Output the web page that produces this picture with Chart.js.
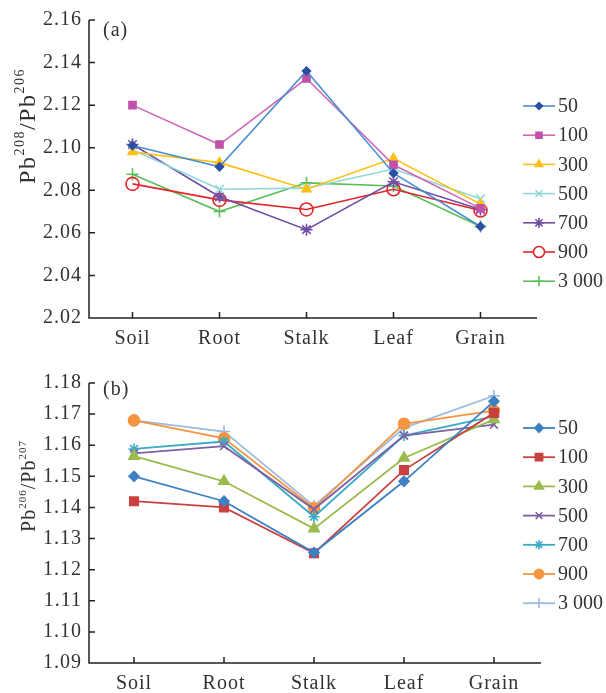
<!DOCTYPE html>
<html lang="en">
<head>
  <meta charset="UTF-8">
  <title>Pb isotope ratios</title>
  <style>
    body { margin: 0; background: #fff; }
    .box { position: relative; width: 606px; }
  </style>
</head>
<body>

<div class="box" style="height:345px"><canvas id="chartA"></canvas></div>
<div class="box" style="height:348px"><canvas id="chartB"></canvas></div>

<script src="https://cdn.jsdelivr.net/npm/chart.js"></script>
<script>
const parts = ['Soil', 'Root', 'Stalk', 'Leaf', 'Grain'];
const series = ['50', '100', '300', '500', '700', '900', '3 000'];

// (a) Pb208/Pb206
const a50   = [2.101, 2.091, 2.136, 2.088, 2.063];
const a100  = [2.120, 2.1015, 2.1325, 2.092, 2.0715];
const a300  = [2.098, 2.093, 2.0805, 2.095, 2.0735];
const a500  = [2.099, 2.0805, 2.081, 2.090, 2.076];
const a700  = [2.1015, 2.077, 2.0615, 2.084, 2.071];
const a900  = [2.083, 2.0755, 2.071, 2.0805, 2.0705];
const a3000 = [2.0875, 2.070, 2.0835, 2.082, 2.063];
const yTicksA = [2.02, 2.04, 2.06, 2.08, 2.10, 2.12, 2.14, 2.16];

// (b) Pb206/Pb207
const b50   = [1.150, 1.142, 1.1255, 1.1484, 1.1741];
const b100  = [1.142, 1.140, 1.1253, 1.152, 1.1704];
const b300  = [1.1565, 1.1484, 1.1332, 1.1559, 1.1683];
const b500  = [1.1574, 1.1597, 1.1394, 1.1631, 1.1666];
const b700  = [1.1588, 1.1612, 1.137, 1.1631, 1.1693];
const b900  = [1.168, 1.1622, 1.1398, 1.1669, 1.1711];
const b3000 = [1.168, 1.1644, 1.1405, 1.1656, 1.1759];
const yTicksB = [1.09, 1.10, 1.11, 1.12, 1.13, 1.14, 1.15, 1.16, 1.17, 1.18];

const SERIF = '"Liberation Serif", "Times New Roman", serif';
const INK = '#333';

// line colour, marker colour, marker style, radius, filled
const styleA = [
  ['#4a8fd0', '#2d4fa3', 'rectRot', 4, true],
  ['#cf68b6', '#c052aa', 'rect', 5, true],
  ['#fdc012', '#fdc012', 'triangle', 5, true],
  ['#8fd9db', '#8fd9db', 'crossRot', 6, false],
  ['#6f4ea6', '#6f4ea6', 'star', 6, false],
  ['#e3262b', '#e3262b', 'circle', 6.5, false],
  ['#5bbf5b', '#5bbf5b', 'cross', 6, false]
];
const styleB = [
  ['#3d80c3', '#3d80c3', 'rectRot', 5, true],
  ['#c9413f', '#c9413f', 'rect', 6, true],
  ['#9bbb4c', '#9bbb4c', 'triangle', 6, true],
  ['#7d60a6', '#7d60a6', 'crossRot', 5.5, false],
  ['#3aabc6', '#3aabc6', 'star', 5.5, false],
  ['#f59540', '#f59540', 'circle', 5.5, true],
  ['#9dbadf', '#9dbadf', 'cross', 6, false]
];

function buildSets(values, styles, lw) {
  return values.map((v, i) => {
    const s = styles[i];
    return {
      label: series[i],
      data: v,
      borderColor: s[0],
      borderWidth: lw,
      pointStyle: s[2],
      pointRadius: s[3],
      pointBorderColor: s[1],
      pointBackgroundColor: s[4] ? s[1] : 'rgba(0,0,0,0)',
      pointBorderWidth: 1.6,
      tension: 0
    };
  });
}

const decor = {
  id: 'decor',
  beforeDraw(chart) {
    chart.ctx.letterSpacing = '1px';
  },
  afterDraw(chart, args, o) {
    const ctx = chart.ctx, xs = chart.scales.x, ys = chart.scales.y, area = chart.chartArea;
    ctx.save();
    ctx.letterSpacing = '0px';
    ctx.strokeStyle = '#222';
    ctx.lineWidth = 1.5;
    ctx.beginPath();
    ctx.moveTo(area.left, area.top);
    ctx.lineTo(area.left, area.bottom);
    ctx.lineTo(o.axisEnd, area.bottom);
    ys.ticks.forEach(t => {
      const y = ys.getPixelForValue(t.value);
      ctx.moveTo(area.left, y);
      ctx.lineTo(area.left + 6, y);
    });
    xs.ticks.forEach((t, i) => {
      const x = xs.getPixelForTick(i);
      ctx.moveTo(x, area.bottom);
      ctx.lineTo(x, area.bottom - 6);
    });
    ctx.stroke();

    // panel letter
    ctx.fillStyle = INK;
    ctx.font = '20px ' + SERIF;
    ctx.textAlign = 'left';
    ctx.textBaseline = 'middle';
    ctx.letterSpacing = '1px';
    ctx.fillText(o.panel, 103, o.panelY);

    // rotated y title with superscripts
    ctx.save();
    ctx.translate(o.titleX, o.titleY);
    ctx.rotate(-Math.PI / 2);
    ctx.textBaseline = 'alphabetic';
    ctx.letterSpacing = o.titleSpacing + 'px';
    let total = 0;
    const widths = o.title.map(p => {
      ctx.font = (p[1] ? o.supSize : o.titleSize) + 'px ' + SERIF;
      const w = ctx.measureText(p[0]).width;
      total += w;
      return w;
    });
    let u = -total / 2;
    o.title.forEach((p, i) => {
      ctx.font = (p[1] ? o.supSize : o.titleSize) + 'px ' + SERIF;
      ctx.fillText(p[0], u, p[1] ? -o.titleSize * 0.45 : 0);
      u += widths[i];
    });
    ctx.restore();

    // legend
    const draw = Chart.helpers && Chart.helpers.drawPoint;
    chart.data.datasets.forEach((ds, i) => {
      const y = o.legendTop + i * o.legendGap;
      ctx.strokeStyle = ds.borderColor;
      ctx.lineWidth = ds.borderWidth;
      ctx.beginPath();
      ctx.moveTo(523, y);
      ctx.lineTo(555, y);
      ctx.stroke();
      if (draw) {
        ctx.strokeStyle = ds.pointBorderColor;
        ctx.fillStyle = ds.pointBackgroundColor === 'rgba(0,0,0,0)' ? '#fff' : ds.pointBackgroundColor;
        ctx.lineWidth = ds.pointBorderWidth;
        draw(ctx, { pointStyle: ds.pointStyle, radius: ds.pointRadius * 0.85, rotation: 0, borderWidth: ds.pointBorderWidth }, 539, y);
      }
      ctx.fillStyle = INK;
      ctx.font = '20px ' + SERIF;
      ctx.textAlign = 'left';
      ctx.textBaseline = 'middle';
      ctx.letterSpacing = '0px';
      ctx.fillText(ds.label, 558, y + 1);
    });
    ctx.restore();
    ctx.letterSpacing = '0px';
  }
};

function makeChart(id, sets, yMin, yMax, yTicks, pad, axisH, deco) {
  return new Chart(document.getElementById(id), {
    type: 'line',
    data: { labels: parts, datasets: sets },
    options: {
      responsive: true,
      maintainAspectRatio: false,
      animation: false,
      layout: { padding: pad },
      plugins: { legend: { display: false }, tooltip: { enabled: false }, decor: deco },
      scales: {
        x: {
          offset: true,
          grid: { display: false, drawTicks: false },
          border: { display: false },
          ticks: { color: INK, padding: 9, maxRotation: 0, font: { family: SERIF, size: 20 } },
          afterFit(s) { s.height = axisH; }
        },
        y: {
          min: yMin,
          max: yMax,
          grid: { display: false, drawTicks: false },
          border: { display: false },
          afterBuildTicks(s) { s.ticks = yTicks.map(v => ({ value: v })); },
          ticks: {
            color: INK,
            padding: 7,
            font: { family: SERIF, size: 20 },
            callback: v => Number(v).toFixed(2)
          },
          afterFit(s) { s.width = 89; }
        }
      }
    },
    plugins: [decor]
  });
}

makeChart('chartA',
  buildSets([a50, a100, a300, a500, a700, a900, a3000], styleA, 1.6),
  2.02, 2.16, yTicksA,
  { top: 20, right: 82, left: 0, bottom: 0 }, 27,
  {
    axisEnd: 537, panel: '(a)', panelY: 31,
    title: [['Pb', 0], ['208', 1], ['/Pb', 0], ['206', 1]],
    titleX: 35, titleY: 126, titleSize: 24, supSize: 14, titleSpacing: 1.5,
    legendTop: 106, legendGap: 29.2
  });

makeChart('chartB',
  buildSets([b50, b100, b300, b500, b700, b900, b3000], styleB, 1.8),
  1.09, 1.18, yTicksB,
  { top: 38, right: 67, left: 0, bottom: 0 }, 30,
  {
    axisEnd: 541, panel: '(b)', panelY: 45,
    title: [['Pb', 0], ['206', 1], ['/Pb', 0], ['207', 1]],
    titleX: 35, titleY: 141, titleSize: 20, supSize: 11, titleSpacing: 1,
    legendTop: 83, legendGap: 29.2
  });
</script>
</body>
</html>
